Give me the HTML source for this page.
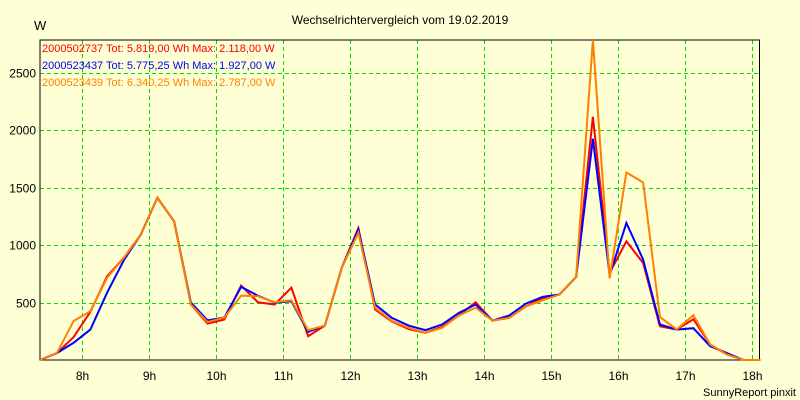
<!DOCTYPE html>
<html><head><meta charset="utf-8"><style>
body{margin:0;background:#ffffd6;}
svg{display:block;font-family:"Liberation Sans",sans-serif;}
</style></head><body>
<svg id="chart" width="800" height="400" xmlns="http://www.w3.org/2000/svg">
<rect x="0" y="0" width="800" height="400" fill="#ffffd6"/>
<text x="400" y="24" font-size="12" text-anchor="middle" fill="#000">Wechselrichtervergleich vom 19.02.2019</text>
<text x="34" y="30" font-size="13" fill="#000">W</text>
<text x="796" y="396" font-size="11" text-anchor="end" fill="#000">SunnyReport pinxit</text>
<g id="grid"></g>
<g id="axes"></g>
<g id="series"></g>
<g id="legend">
<text x="42" y="52" font-size="11" fill="#ff0000">2000502737 Tot: 5.819,00 Wh Max: 2.118,00 W</text>
<text x="42" y="69" font-size="11" fill="#0000ff">2000523437 Tot: 5.775,25 Wh Max: 1.927,00 W</text>
<text x="42" y="86" font-size="11" fill="#ff8000">2000523439 Tot: 6.340,25 Wh Max: 2.787,00 W</text>
</g>
</svg>
<script>
const startHour = 7.375;
const stepHours = 0.25;
const xTicks = [8,9,10,11,12,13,14,15,16,17,18];
const xTickLabels = ["8h","9h","10h","11h","12h","13h","14h","15h","16h","17h","18h"];
const yTicks = [500,1000,1500,2000,2500];
const yTickLabels = ["500","1000","1500","2000","2500"];
const yMax = 2787;
const redValues = [0,60,200,420,730,890,1090,1413,1207,483,317,353,648,503,483,630,207,300,800,1150,440,335,270,237,290,388,503,343,367,467,540,570,723,2118,760,1033,845,294,265,355,135,48,0,0];
const blueValues = [0,60,150,265,587,870,1090,1413,1207,500,345,370,637,560,500,512,245,300,800,1135,483,367,300,260,310,410,483,343,387,491,550,570,723,1927,740,1193,875,310,265,277,120,60,0,0];
const orangeValues = [0,60,340,425,717,890,1090,1413,1207,483,330,370,560,555,503,520,260,300,800,1108,455,340,280,237,280,388,455,343,367,467,520,570,723,2787,710,1633,1547,375,265,390,135,48,0,0];

const L=40,R=759.5,T=40,B=360;
const hourPx=67, x8=82;
function xScale(h){return x8+(h-8)*hourPx;}
function yScale(v){return B-(v/yMax)*(B-T);}
const NS="http://www.w3.org/2000/svg";
function mk(tag,attrs,parent){const e=document.createElementNS(NS,tag);for(const k in attrs)e.setAttribute(k,attrs[k]);parent.appendChild(e);return e;}
const grid=document.getElementById('grid'),axes=document.getElementById('axes'),series=document.getElementById('series');
xTicks.forEach((h,i)=>{
  const x=Math.round(xScale(h))+0.5;
  const ln=mk('line',{x1:x,y1:T,x2:x,y2:B,stroke:'#00e000','stroke-dasharray':'4,3','stroke-width':1},grid);
  
  
  const t=mk('text',{x:x,y:B+20,'font-size':12,'text-anchor':'middle',fill:'#000'},axes);
  t.textContent=xTickLabels[i];
  
  
});
yTicks.forEach((v,i)=>{
  const y=Math.round(yScale(v))+0.5;
  const ln=mk('line',{x1:L,y1:y,x2:R,y2:y,stroke:'#00e000','stroke-dasharray':'4,3','stroke-width':1},grid);
  
  
  const t=mk('text',{x:36,y:y+4,'font-size':12,'text-anchor':'end',fill:'#000'},axes);
  t.textContent=yTickLabels[i];
  
  
});
const frame=mk('rect',{x:L,y:T,width:R-L,height:B-T,fill:'none',stroke:'#000','stroke-width':1},axes);


function drawLine(vals,color,name){
  const pts=vals.map((v,i)=>xScale(startHour+i*stepHours).toFixed(2)+','+yScale(v).toFixed(2)).join(' ');
  const p=mk('polyline',{points:pts,fill:'none',stroke:color,'stroke-width':2,'stroke-linejoin':'miter'},series);
  
  
}
drawLine(redValues,'#ff0000','series-2000502737');
drawLine(blueValues,'#0000ff','series-2000523437');
drawLine(orangeValues,'#ff8000','series-2000523439');
</script>
</body></html>
